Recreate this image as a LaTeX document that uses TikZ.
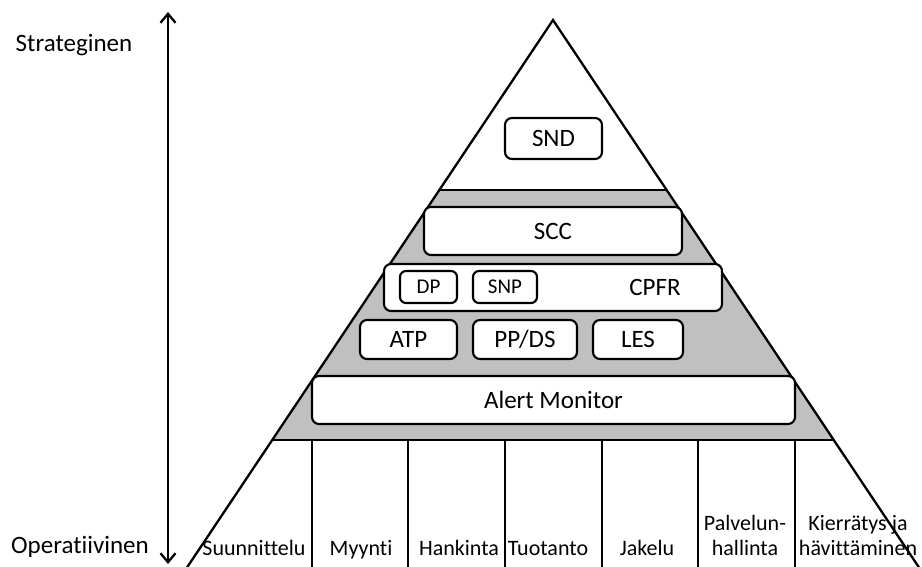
\documentclass[tikz,border=0pt]{standalone}
\usepackage{fontspec}
\setmainfont{Carlito}[Ligatures=NoCommon]
\usetikzlibrary{calc,arrows.meta}
\definecolor{bandgray}{RGB}{192,192,192}
\tikzset{
  outline/.style={line width=2.3pt, line join=miter},
  tool/.style={draw, line width=2.1pt, rounded corners=7pt, fill=white,
    inner sep=0pt, font=\fontsize{25}{30}\selectfont},
  subtool/.style={tool, rounded corners=6pt, font=\fontsize{21}{25}\selectfont},
  level/.style={font=\fontsize{25}{30}\selectfont},
  area/.style={font=\fontsize{22}{25}\selectfont, align=center, inner sep=0pt},
  axis/.style={line width=2.3pt, {Straight Barb[length=9pt,width=15pt]}-{Straight Barb[length=9pt,width=15pt]}}
}
\begin{document}
\begin{tikzpicture}[x=1pt,y=-1pt]
\useasboundingbox (0,0) rectangle (922,566);
\begin{scope}
\clip (0,0) rectangle (922,566);

% pyramid corners
\coordinate (apex) at (553,20);
\coordinate (bl) at (188,566);
\coordinate (br) at (918,566);
\coordinate (gtl) at ($(apex)!0.3114!(bl)$);
\coordinate (gtr) at ($(apex)!0.3114!(br)$);
\coordinate (gbl) at ($(apex)!0.7692!(bl)$);
\coordinate (gbr) at ($(apex)!0.7692!(br)$);

% grey band of tactical tools
\fill[bandgray] (gtl) -- (gbl) -- (gbr) -- (gtr) -- cycle;
\draw[outline] (gtl) -- (gtr);
\draw[outline] (gbl) -- (gbr);

% column dividers of the operative functions
\foreach \cx in {312,408,505,602,698,795}
  \draw[outline] (\cx,440) -- (\cx,570);

% pyramid sides
\draw[outline] ($(apex)!1.02!(bl)$) -- (apex) -- ($(apex)!1.02!(br)$);
\end{scope}

% tool boxes
\node[tool, minimum width=97pt, minimum height=41pt] (snd) at (553.5,138.5) {SND};
\node[tool, minimum width=258pt, minimum height=48pt] (scc) at (553,231) {SCC};
\node[tool, minimum width=338pt, minimum height=47pt] (cpfr) at (553,287.5) {};
\node[level] (cpfrtext) at (655,287) {CPFR};
\node[subtool, minimum width=57pt, minimum height=32pt] (dp) at (428.5,287) {DP};
\node[subtool, minimum width=64pt, minimum height=32pt] (snp) at (505,287) {SNP};
\node[tool, minimum width=97pt, minimum height=39pt] (atp) at (408.5,339.5) {ATP};
\node[tool, minimum width=104pt, minimum height=39pt] (ppds) at (525,339.5) {PP/DS};
\node[tool, minimum width=90pt, minimum height=39pt] (les) at (638,339.5) {LES};
\node[tool, minimum width=483pt, minimum height=48pt] (alert) at (553.5,400) {Alert Monitor};

% operative functions
\node[area, anchor=base] (f1) at (254,555) {Suunnittelu};
\node[area, anchor=base] (f2) at (361,555) {Myynti};
\node[area, anchor=base] (f3) at (459,555) {Hankinta};
\node[area, anchor=base] (f4) at (548,555) {Tuotanto};
\node[area, anchor=base] (f5) at (647,555) {Jakelu};
\node[area, anchor=base] (f6) at (745,555) {Palvelun-\\hallinta};
\node[area, anchor=base] (f7) at (858,555) {Kierrätys ja\\hävittäminen};

% planning level axis
\node[level] (strat) at (74,45) {Strateginen};
\node[level] (oper) at (80,547) {Operatiivinen};
\coordinate (axtop) at (168,12);
\coordinate (axbot) at (168,564);
\draw[axis] (axtop) -- (axbot);
\end{tikzpicture}
\end{document}
